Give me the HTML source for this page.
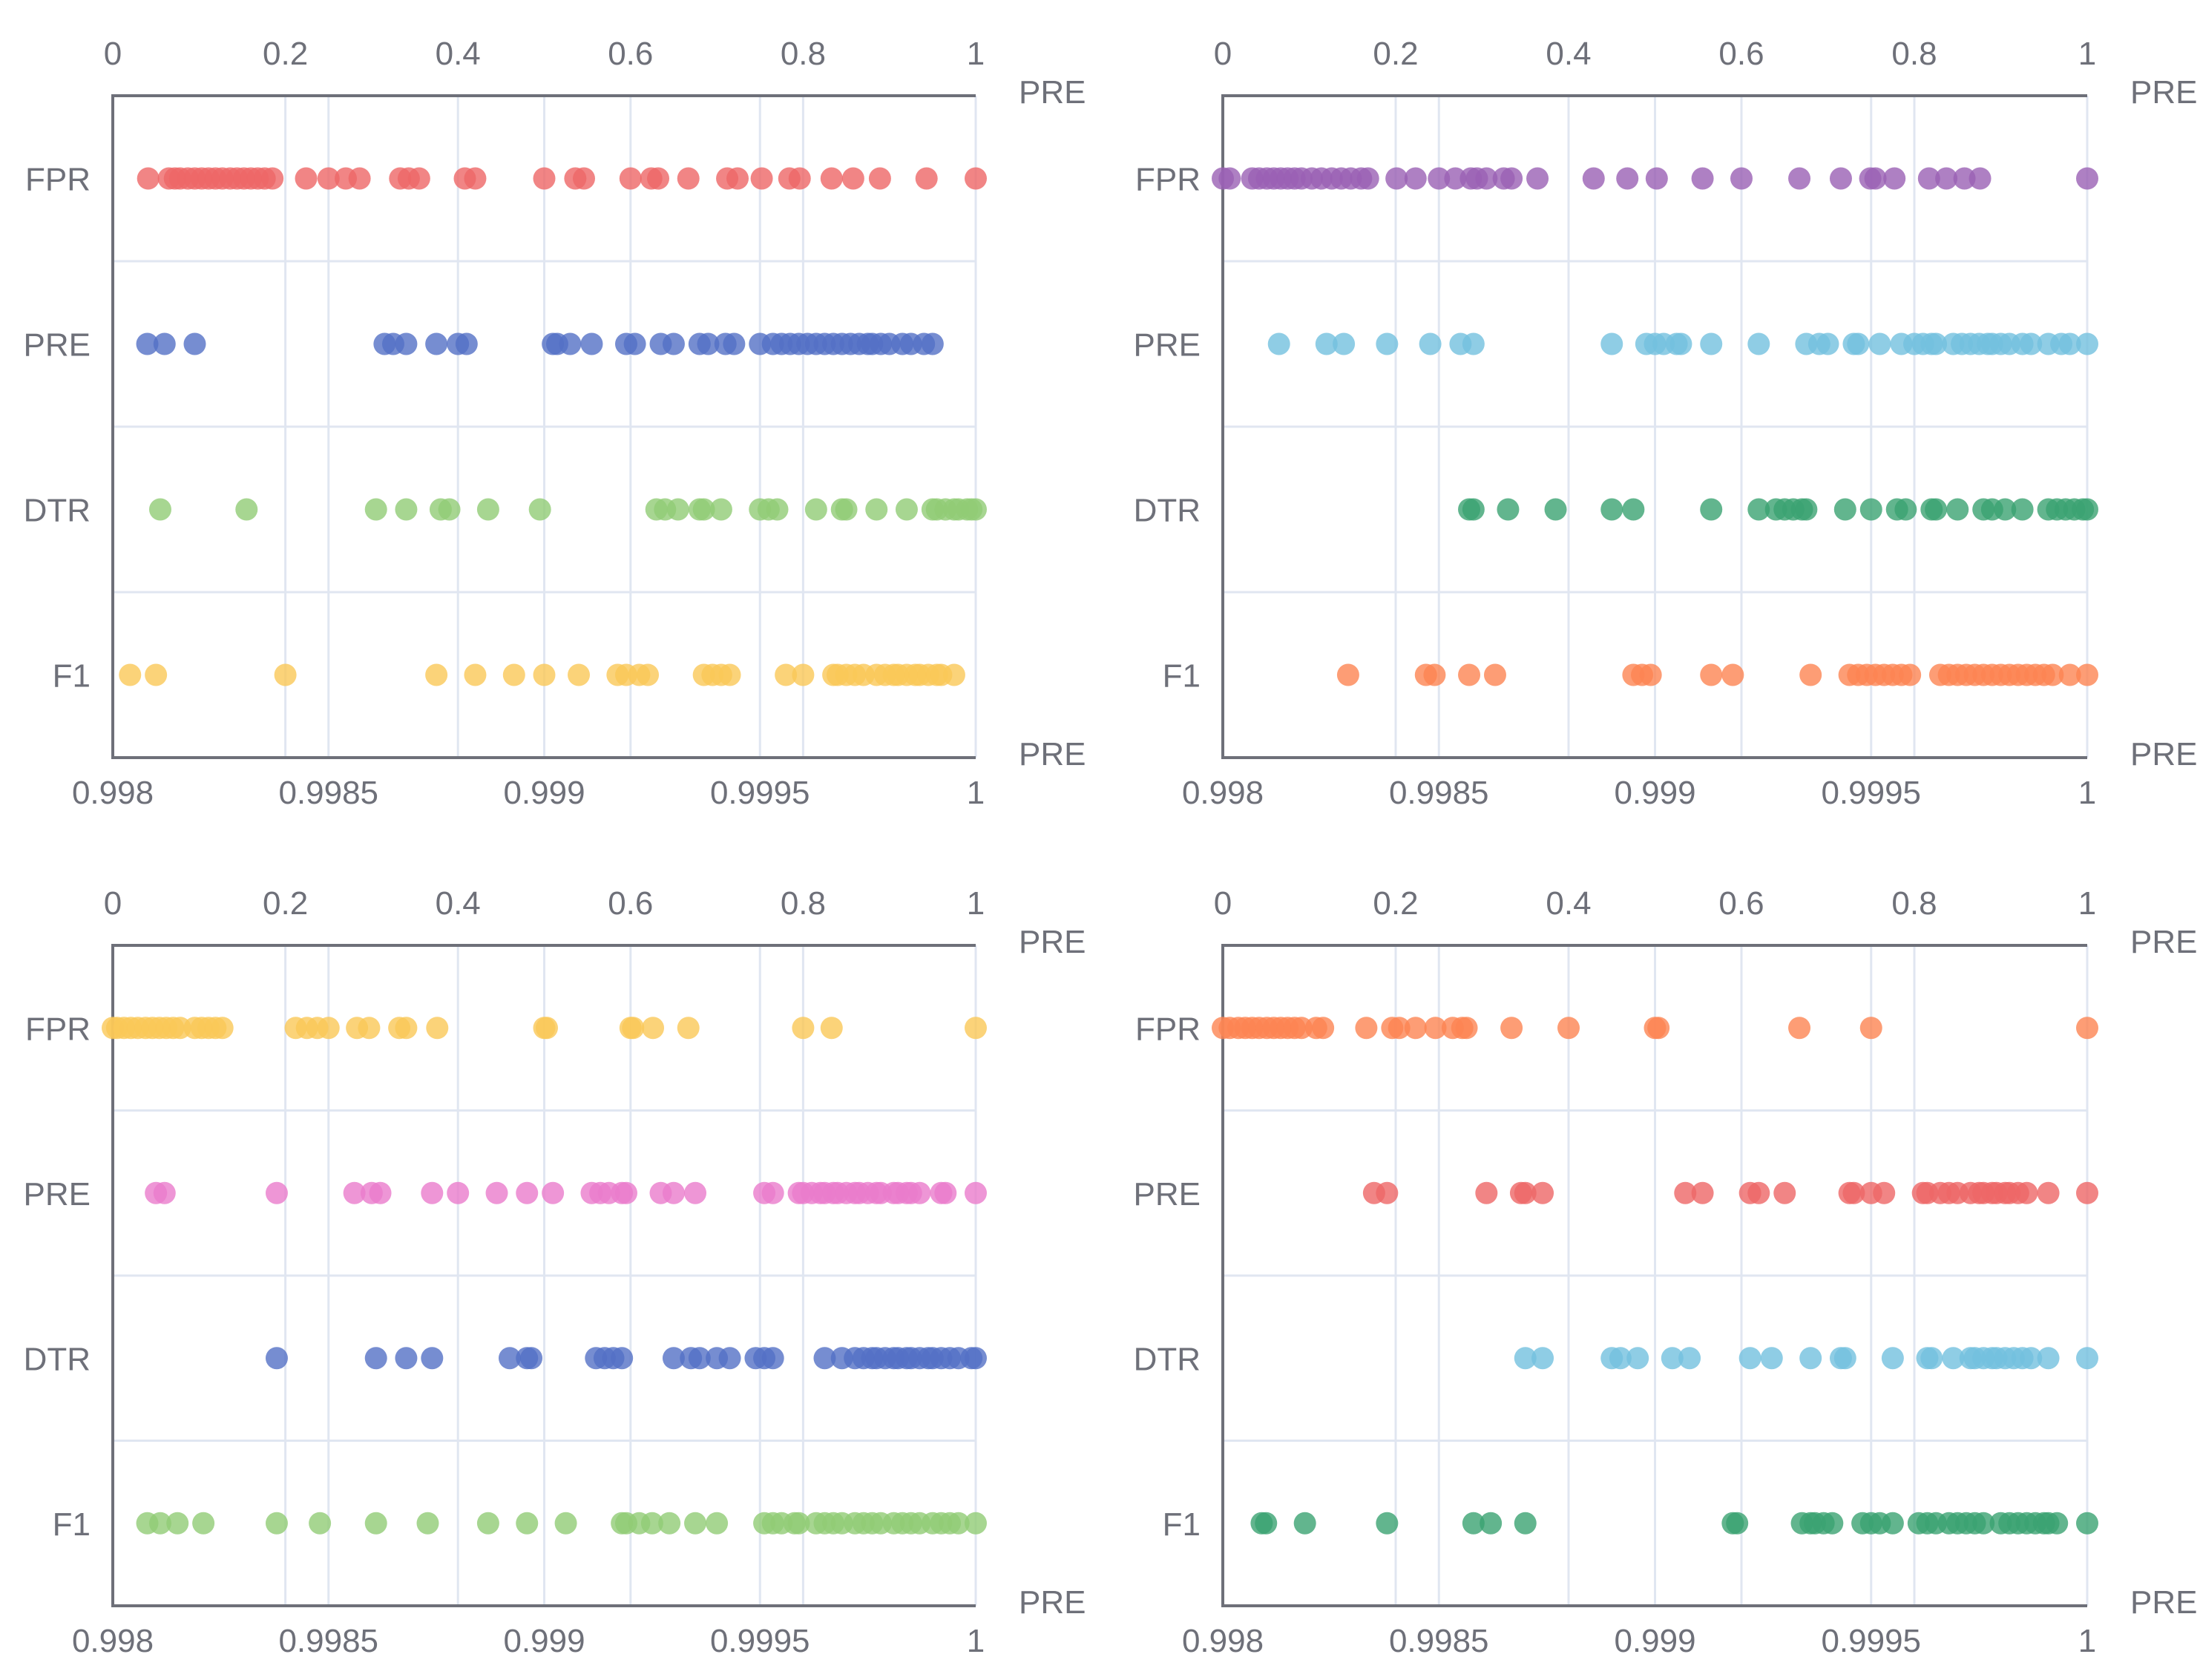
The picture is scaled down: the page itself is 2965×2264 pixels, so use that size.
<!DOCTYPE html>
<html><head><meta charset="utf-8"><style>
html,body{margin:0;padding:0;background:#fff}
svg{display:block}
text{font-family:"Liberation Sans",sans-serif;fill:#6e7079;font-size:44px}
</style></head><body>
<svg id="chart" width="2965" height="2264" viewBox="0 0 2965 2264" xmlns="http://www.w3.org/2000/svg"></svg>
<script>
const categories=["FPR","PRE","DTR","F1"];
const topTicks=[0,0.2,0.4,0.6,0.8,1];
const topTickLabels=["0","0.2","0.4","0.6","0.8","1"];
const bottomTicks=[0.998,0.9985,0.999,0.9995,1];
const bottomTickLabels=["0.998","0.9985","0.999","0.9995","1"];

// Panel 1 (top-left)
const p1FPR=[0.041,0.065,0.072,0.078,0.087,0.095,0.103,0.111,0.119,0.127,0.136,0.144,0.152,0.160,0.168,0.176,0.185,0.224,0.25,0.27,0.286,0.333,0.343,0.355,0.408,0.42,0.5,0.536,0.546,0.6,0.624,0.632,0.667,0.712,0.724,0.752,0.784,0.796,0.833,0.858,0.889,0.943,1];
const p1PRE=[0.99808,0.99812,0.99819,0.99863,0.99865,0.99868,0.99875,0.99880,0.99882,0.99902,0.99903,0.99906,0.99911,0.99919,0.99921,0.99927,0.99930,0.99936,0.99938,0.99942,0.99944,0.99950,0.99953,0.99955,0.99957,0.99959,0.99961,0.99963,0.99965,0.99967,0.99969,0.99971,0.99973,0.99975,0.99976,0.99978,0.99980,0.99983,0.99985,0.99988,0.99990];
const p1DTR=[0.99811,0.99831,0.99861,0.99868,0.99876,0.99878,0.99887,0.99899,0.99926,0.99928,0.99931,0.99936,0.99937,0.99941,0.99950,0.99952,0.99954,0.99963,0.99969,0.99970,0.99977,0.99984,0.99990,0.99991,0.99993,0.99995,0.99996,0.99998,0.99999,1];
const p1F1=[0.99804,0.99810,0.99840,0.99875,0.99884,0.99893,0.99900,0.99908,0.99917,0.99919,0.99922,0.99924,0.99937,0.99939,0.99941,0.99943,0.99956,0.99960,0.99967,0.99968,0.99970,0.99972,0.99974,0.99977,0.99979,0.99981,0.99982,0.99984,0.99986,0.99987,0.99989,0.99991,0.99992,0.99995];

// Panel 2 (top-right)
const p2FPR=[0,0.008,0.034,0.042,0.051,0.059,0.067,0.075,0.083,0.091,0.103,0.114,0.126,0.137,0.148,0.160,0.168,0.201,0.223,0.250,0.269,0.287,0.294,0.305,0.325,0.334,0.364,0.429,0.468,0.502,0.555,0.600,0.667,0.715,0.749,0.755,0.777,0.817,0.837,0.858,0.876,1];
const p2PRE=[0.99813,0.99824,0.99828,0.99838,0.99848,0.99855,0.99858,0.99890,0.99898,0.99900,0.99902,0.99905,0.99906,0.99913,0.99924,0.99935,0.99938,0.99940,0.99946,0.99947,0.99952,0.99957,0.99960,0.99962,0.99964,0.99965,0.99969,0.99971,0.99973,0.99975,0.99977,0.99978,0.99980,0.99982,0.99985,0.99987,0.99991,0.99994,0.99996,1];
const p2DTR=[0.99857,0.99858,0.99866,0.99877,0.99890,0.99895,0.99913,0.99924,0.99928,0.99930,0.99932,0.99934,0.99935,0.99944,0.99950,0.99956,0.99958,0.99964,0.99965,0.99970,0.99976,0.99978,0.99981,0.99985,0.99991,0.99993,0.99995,0.99997,0.99999,1];
const p2F1=[0.99829,0.99847,0.99849,0.99857,0.99863,0.99895,0.99897,0.99899,0.99913,0.99918,0.99936,0.99945,0.99947,0.99949,0.99951,0.99953,0.99955,0.99957,0.99959,0.99966,0.99968,0.99970,0.99972,0.99974,0.99976,0.99978,0.99980,0.99982,0.99984,0.99986,0.99988,0.99990,0.99992,0.99996,1];

// Panel 3 (bottom-left)
const p3FPR=[0,0.005,0.013,0.021,0.029,0.038,0.046,0.054,0.062,0.070,0.078,0.095,0.103,0.111,0.119,0.127,0.212,0.225,0.237,0.250,0.283,0.297,0.332,0.340,0.376,0.5,0.503,0.6,0.603,0.626,0.667,0.8,0.833,1];
const p3PRE=[0.99810,0.99812,0.99838,0.99856,0.99860,0.99862,0.99874,0.99880,0.99889,0.99896,0.99902,0.99911,0.99913,0.99915,0.99918,0.99919,0.99927,0.99930,0.99935,0.99951,0.99953,0.99959,0.99960,0.99962,0.99964,0.99965,0.99967,0.99968,0.99970,0.99972,0.99973,0.99975,0.99977,0.99978,0.99981,0.99982,0.99984,0.99985,0.99987,0.99992,0.99993,1];
const p3DTR=[0.99838,0.99861,0.99868,0.99874,0.99892,0.99896,0.99897,0.99912,0.99914,0.99916,0.99918,0.99930,0.99934,0.99936,0.99940,0.99943,0.99949,0.99951,0.99953,0.99965,0.99969,0.99972,0.99974,0.99976,0.99977,0.99979,0.99981,0.99982,0.99984,0.99985,0.99987,0.99989,0.99990,0.99992,0.99994,0.99996,0.99999,1];
const p3F1=[0.99808,0.99811,0.99815,0.99821,0.99838,0.99848,0.99861,0.99873,0.99887,0.99896,0.99905,0.99918,0.99919,0.99922,0.99925,0.99929,0.99935,0.99940,0.99951,0.99953,0.99955,0.99958,0.99959,0.99963,0.99965,0.99967,0.99969,0.99972,0.99974,0.99976,0.99978,0.99981,0.99983,0.99985,0.99987,0.99990,0.99992,0.99994,0.99996,1];

// Panel 4 (bottom-right)
const p4FPR=[0,0.008,0.018,0.026,0.034,0.042,0.051,0.059,0.067,0.075,0.083,0.091,0.108,0.116,0.166,0.196,0.204,0.223,0.246,0.266,0.277,0.282,0.334,0.4,0.5,0.504,0.667,0.75,1];
const p4PRE=[0.99835,0.99838,0.99861,0.99869,0.99870,0.99874,0.99907,0.99911,0.99922,0.99924,0.99930,0.99945,0.99946,0.99950,0.99953,0.99962,0.99963,0.99966,0.99968,0.99970,0.99973,0.99975,0.99976,0.99978,0.99979,0.99981,0.99982,0.99984,0.99986,0.99991,1];
const p4DTR=[0.99870,0.99874,0.99890,0.99892,0.99896,0.99904,0.99908,0.99922,0.99927,0.99936,0.99943,0.99944,0.99955,0.99963,0.99964,0.99969,0.99973,0.99974,0.99976,0.99978,0.99979,0.99981,0.99983,0.99985,0.99987,0.99991,1];
const p4F1=[0.99809,0.99810,0.99819,0.99838,0.99858,0.99862,0.99870,0.99918,0.99919,0.99934,0.99936,0.99937,0.99939,0.99941,0.99948,0.99950,0.99952,0.99955,0.99961,0.99963,0.99965,0.99968,0.99970,0.99972,0.99974,0.99976,0.99980,0.99982,0.99984,0.99986,0.99988,0.99990,0.99991,0.99993,1];

const panels=[
 {name:"top-left",L:152,T:129,W:1163,H:892,series:[p1FPR,p1PRE,p1DTR,p1F1],colors:["#ee6666","#5470c6","#91cc75","#fac858"]},
 {name:"top-right",L:1648,T:129,W:1165,H:892,series:[p2FPR,p2PRE,p2DTR,p2F1],colors:["#9a60b4","#73c0de","#3ba272","#fc8452"]},
 {name:"bottom-left",L:152,T:1274,W:1163,H:890,series:[p3FPR,p3PRE,p3DTR,p3F1],colors:["#fac858","#ea7ccc","#5470c6","#91cc75"]},
 {name:"bottom-right",L:1648,T:1274,W:1165,H:890,series:[p4FPR,p4PRE,p4DTR,p4F1],colors:["#fc8452","#ee6666","#73c0de","#3ba272"]}
];
const NS="http://www.w3.org/2000/svg";
const svg=document.getElementById("chart");
function mk(tag,parent,attrs){const e=document.createElementNS(NS,tag);for(const k in attrs)e.setAttribute(k,attrs[k]);parent.appendChild(e);return e;}
panels.forEach(p=>{
 const g=mk("g",svg,{});
 
 
 const B=p.T+p.H,R=p.L+p.W;
 const xTop=v=>p.L+v*p.W;
 const xBot=v=>p.L+(v-0.998)/0.002*p.W;
 const band=p.H/4;
 // horizontal row separators
 for(let i=1;i<=3;i++){const l=mk("line",g,{x1:p.L,x2:R,y1:p.T+band*i,y2:p.T+band*i,stroke:"#e0e6f1","stroke-width":3});
  
  }
 // vertical grid
 topTicks.forEach((t,i)=>{if(i===0)return;const x=xTop(t);const l=mk("line",g,{x1:x,x2:x,y1:p.T,y2:B,stroke:"#e0e6f1","stroke-width":3});
  
  });
 bottomTicks.forEach((t,i)=>{if(i===0)return;const x=xBot(t);const l=mk("line",g,{x1:x,x2:x,y1:p.T,y2:B,stroke:"#e0e6f1","stroke-width":3});
  
  });
 // axes lines
 const a1=mk("line",g,{x1:p.L,x2:R,y1:p.T,y2:p.T,stroke:"#6e7079","stroke-width":4});
 
 
 const a2=mk("line",g,{x1:p.L,x2:R,y1:B,y2:B,stroke:"#6e7079","stroke-width":4});
 
 
 const a3=mk("line",g,{x1:p.L,x2:p.L,y1:p.T-2,y2:B+2,stroke:"#6e7079","stroke-width":4});
 
 
 // tick labels
 topTicks.forEach((t,i)=>{const tx=mk("text",g,{x:xTop(t),y:p.T-42,"text-anchor":"middle"});tx.textContent=topTickLabels[i];
  
  });
 bottomTicks.forEach((t,i)=>{const tx=mk("text",g,{x:xBot(t),y:B+62,"text-anchor":"middle"});tx.textContent=bottomTickLabels[i];
  
  });
 const n1=mk("text",g,{x:R+58,y:p.T+10});n1.textContent="PRE";
 
 
 const n2=mk("text",g,{x:R+58,y:B+10});n2.textContent="PRE";
 
 
 categories.forEach((c,i)=>{const cy=p.T+band*(i+0.5);
  const tx=mk("text",g,{x:p.L-30,y:cy+16,"text-anchor":"end"});tx.textContent=c;
  
  
  const sx=i===0?xTop:xBot;
  p.series[i].forEach(v=>{const d=mk("circle",g,{cx:sx(v),cy:cy,r:15,fill:p.colors[i],"fill-opacity":0.8});
   
   });
 });
});
</script>
</body></html>
